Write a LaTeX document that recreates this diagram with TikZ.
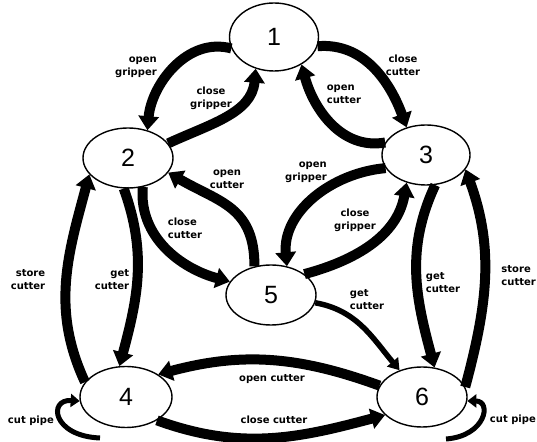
\documentclass[tikz,border=0pt]{standalone}
\usepackage{fontspec}
\setmainfont{Liberation Sans}
\newfontfamily\lblfamily{DejaVu Sans}
\usetikzlibrary{shapes.geometric,arrows.meta}

\tikzset{
  state/.style={ellipse, draw, line width=1.4pt, fill=white, inner sep=0pt,
    font=\fontsize{25}{25}\selectfont},
  flow/.style={line width=10pt, -{Triangle[length=14pt,width=20pt]}},
  thinflow/.style={line width=5.5pt, -{Triangle[length=11pt,width=14pt]}},
  loopflow/.style={line width=5pt, -{Triangle[length=9pt,width=13pt]}},
  lbl/.style={font=\lblfamily\bfseries\fontsize{10}{13}\selectfont, inner sep=0pt, align=center},
}

\begin{document}
\begin{tikzpicture}[x=1pt,y=1pt]
\useasboundingbox (0,0) rectangle (537,441);

% states
\node[state, minimum width=89pt, minimum height=68pt] (n1) at (274,404) {1};
\node[state, minimum width=90pt, minimum height=60pt] (n2) at (128,283) {2};
\node[state, minimum width=88pt, minimum height=60pt] (n3) at (426,286) {3};
\node[state, minimum width=90pt, minimum height=60pt] (n5) at (271,146) {5};
\node[state, minimum width=92pt, minimum height=61pt] (n4) at (126,44) {4};
\node[state, minimum width=90pt, minimum height=60pt] (n6) at (422,44) {6};

% transitions between 1, 2 and 3
\draw[flow] (n1.195) to[out=165,in=85] (n2.55);
\draw[flow] (n2.20) to[out=25,in=-95] (n1.240);
\draw[flow] (n1.-12) to[out=5,in=110] (n3.125);
\draw[flow] (n3.163) to[out=190,in=-75] (n1.-45);

% transitions to and from 5
\draw[flow] (n5.120) to[out=90,in=-30,looseness=1.2] (n2.-20);
\draw[flow] (n2.-63) to[out=-95,in=165] (n5.162);
\draw[flow] (n3.198) to[out=185,in=95] (n5.61);
\draw[flow] (n5.32) to[out=15,in=-100] (n3.235);
\draw[thinflow] (n5.-10) to[out=-10,in=130] (n6.130);

% side transitions
\draw[flow] (n2.-98) to[out=-70,in=75] (n4.102);
\draw[flow] (n4.160) to[out=115,in=-105] (n2.203);
\draw[flow] (n3.-73) to[out=-115,in=105] (n6.67);
\draw[flow] (n6.13) to[out=75,in=-70] (n3.-20);

% bottom transitions
\draw[flow] (n6.165) to[out=160,in=15] (n4.35);
\draw[flow] (n4.-37) to[out=-20,in=195] (n6.206);

% self loops
\coordinate (tailL) at (100,3);
\coordinate (tailR) at (446,2);
\draw[loopflow] (tailL) .. controls (52,5) and (48,42) .. (n4.185);
\draw[loopflow] (tailR) .. controls (486,5) and (492,40) .. (n6.-5);

% labels
\node[lbl, align=right] (l12) at (136,374) {open\\gripper};
\node[lbl] (l21) at (211,342.5) {close\\gripper};
\node[lbl] (l13) at (403,376) {close\\cutter};
\node[lbl, align=left] (l31) at (344,346.5) {open\\cutter};
\node[lbl] (l52) at (227,262) {open\\cutter};
\node[lbl, align=left] (l25) at (185,212.5) {close\\cutter};
\node[lbl, align=right] (l35) at (306,269) {open\\gripper};
\node[lbl] (l53) at (355,220.5) {close\\gripper};
\node[lbl, align=left] (l56) at (367,141) {get\\cutter};
\node[lbl, align=right] (l24) at (112,161.5) {get\\cutter};
\node[lbl, align=right] (l42) at (28,161.5) {store\\cutter};
\node[lbl, align=left] (l36) at (443,158.5) {get\\cutter};
\node[lbl, align=left, anchor=east] (l63) at (536,165) {store\\cutter};
\node[lbl] (l64) at (272,62) {open cutter};
\node[lbl] (l46) at (274,21) {close cutter};
\node[lbl, anchor=east] (l44) at (54,20) {cut pipe};
\node[lbl, anchor=east] (l66) at (536,21) {cut pipe};
\end{tikzpicture}
\end{document}
